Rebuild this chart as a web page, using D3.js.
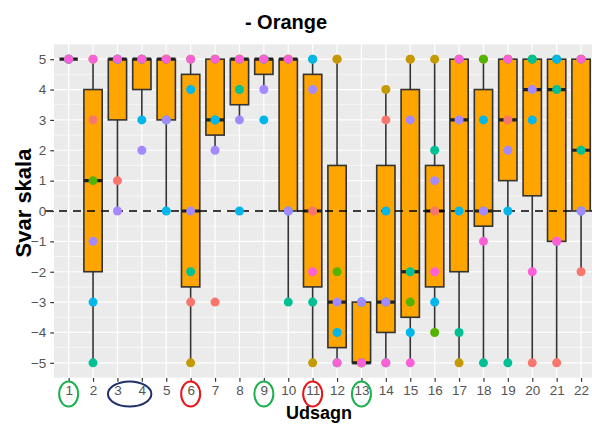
<!DOCTYPE html>
<html>
<head>
<meta charset="utf-8">
<script src="https://cdn.jsdelivr.net/npm/d3@7"></script>
<style>
  html, body { margin: 0; padding: 0; background: #fff; }
  svg { display: block; font-family: "Liberation Sans", Arial, sans-serif; }
</style>
</head>
<body>
<svg id="chart" width="592" height="424"></svg>
<script>
// Statements (x axis) and the answer scale (y axis)
const categories = ["1","2","3","4","5","6","7","8","9","10","11","12","13","14","15","16","17","18","19","20","21","22"];
const yTicks = [-5,-4,-3,-2,-1,0,1,2,3,4,5];

// Answers of each respondent, one value per statement
const resp1 = [5, 3, 1, 5, 5,-3,-3, 5, 5, 5, 0, 5,-5, 3, 5, 0, 5, 5, 3,-5,-5,-2];
const resp2 = [5, 5, 5, 5, 5,-5, 5, 5, 5, 5,-5, 5,-5, 4, 5, 5,-5, 0, 5, 5, 5, 5];
const resp3 = [5, 1, 5, 5, 5, 5, 5, 5, 5, 5, 5,-2,-5,-3,-3,-4, 5, 5, 5, 5, 5, 5];
const resp4 = [5,-5, 5, 5, 3,-2, 3, 4, 5,-3,-3,-5,-3,-5,-2, 2,-4,-5,-5, 5, 4, 2];
const resp5 = [5,-3, 5, 3, 0, 4, 3, 0, 3, 0, 5,-4,-3, 0,-4,-3, 0, 3, 0, 3, 5, 0];
const resp6 = [5,-1, 0, 2, 3, 0, 2, 3, 4, 0, 4,-3,-3,-3, 3, 1, 3, 0, 2, 4,-1, 0];
const resp7 = [5, 5, 5, 5, 5, 5, 5, 5, 5, 5,-2,-5,-5,-5,-5,-2, 5,-1, 5,-2,-1, 5];

const respondentNames = ["1","2","3","4","5","6","7"];
const respondentValues = [resp1, resp2, resp3, resp4, resp5, resp6, resp7];
const respondentColors = ["#F8766D","#C49A00","#53B400","#00C094","#00B6EB","#A58AFF","#FB61D7"];

// Ellipses marking selected statements under the axis
const markedGroups = [["1"],["3","4"],["6"],["9"],["11"],["13"]];
const markedColors = ["#1DB04F","#1F2F6B","#E8151B","#1DB04F","#E8151B","#1DB04F"];

const svg = d3.select("#chart");
const W = 592, H = 424;
const panel = { left: 54, right: 595.7, top: 44, bottom: 378 };

const x = d3.scalePoint().domain(categories).range([panel.left, panel.right]).padding(0.6);
const y = d3.scaleLinear().domain([-5.5, 5.5]).range([panel.bottom, panel.top]);
const step = x.step();
const boxW = step * 0.75;

svg.append("rect").attr("width", W).attr("height", H).attr("fill", "#fff");

const clip = svg.append("defs").append("clipPath").attr("id", "panelClip");
clip.append("rect").attr("x", panel.left).attr("y", panel.top)
  .attr("width", panel.right - panel.left).attr("height", panel.bottom - panel.top);

// Panel background and grid
svg.append("rect").attr("x", panel.left).attr("y", panel.top)
  .attr("width", panel.right - panel.left).attr("height", panel.bottom - panel.top)
  .attr("fill", "#EBEBEB");

const grid = svg.append("g").attr("clip-path", "url(#panelClip)");
const minorY = d3.range(-5.5, 5.6, 1);
grid.selectAll(".ymin").data(minorY).join("line")
  .attr("x1", panel.left).attr("x2", panel.right)
  .attr("y1", d => y(d)).attr("y2", d => y(d))
  .attr("stroke", "#fff").attr("stroke-width", 0.6);
grid.selectAll(".ymaj").data(yTicks).join("line")
  .attr("x1", panel.left).attr("x2", panel.right)
  .attr("y1", d => y(d)).attr("y2", d => y(d))
  .attr("stroke", "#fff").attr("stroke-width", 1.2);
grid.selectAll(".xmaj").data(categories).join("line")
  .attr("x1", d => x(d)).attr("x2", d => x(d))
  .attr("y1", panel.top).attr("y2", panel.bottom)
  .attr("stroke", "#fff").attr("stroke-width", 1.2);

// Box statistics per statement (R type-7 quantiles, 1.5 IQR whiskers)
const stats = categories.map((c, i) => {
  const vals = respondentValues.map(r => r[i]).sort(d3.ascending);
  const q1 = d3.quantile(vals, 0.25), med = d3.quantile(vals, 0.5), q3 = d3.quantile(vals, 0.75);
  const iqr = q3 - q1;
  const lo = d3.min(vals.filter(v => v >= q1 - 1.5 * iqr));
  const hi = d3.max(vals.filter(v => v <= q3 + 1.5 * iqr));
  return { c, q1, med, q3, lo, hi };
});

const boxes = svg.append("g").attr("clip-path", "url(#panelClip)");
const lineCol = "#333333";
boxes.selectAll(".whiskHi").data(stats).join("line")
  .attr("x1", d => x(d.c)).attr("x2", d => x(d.c))
  .attr("y1", d => y(d.q3)).attr("y2", d => y(d.hi))
  .attr("stroke", lineCol).attr("stroke-width", 1.6);
boxes.selectAll(".whiskLo").data(stats).join("line")
  .attr("x1", d => x(d.c)).attr("x2", d => x(d.c))
  .attr("y1", d => y(d.q1)).attr("y2", d => y(d.lo))
  .attr("stroke", lineCol).attr("stroke-width", 1.6);
boxes.selectAll(".box").data(stats).join("rect")
  .attr("x", d => x(d.c) - boxW / 2).attr("width", boxW)
  .attr("y", d => y(d.q3)).attr("height", d => y(d.q1) - y(d.q3))
  .attr("fill", "#FFA500").attr("stroke", lineCol).attr("stroke-width", 1.6);
boxes.selectAll(".median").data(stats).join("line")
  .attr("x1", d => x(d.c) - boxW / 2).attr("x2", d => x(d.c) + boxW / 2)
  .attr("y1", d => y(d.med)).attr("y2", d => y(d.med))
  .attr("stroke", "#222").attr("stroke-width", 3.2);

// Dashed reference line at zero
svg.append("line")
  .attr("x1", 45).attr("x2", panel.right)
  .attr("y1", y(0)).attr("y2", y(0))
  .attr("stroke", "#000").attr("stroke-width", 1.6)
  .attr("stroke-dasharray", "8,6");

// Respondent points
const pts = svg.append("g").attr("clip-path", "url(#panelClip)");
respondentValues.forEach((vals, r) => {
  pts.selectAll(".p" + r).data(vals).join("circle")
    .attr("cx", (v, i) => x(categories[i]))
    .attr("cy", v => y(v))
    .attr("r", 4.5)
    .attr("fill", respondentColors[r]);
});

// Axes
const yAxis = svg.append("g").attr("transform", `translate(${panel.left},0)`)
  .call(d3.axisLeft(y).tickValues(yTicks).tickSize(3.7).tickPadding(4));
const xAxis = svg.append("g").attr("transform", `translate(0,${panel.bottom})`)
  .call(d3.axisBottom(x).tickSize(3.7).tickPadding(4));
[yAxis, xAxis].forEach(a => {
  a.select(".domain").remove();
  a.selectAll(".tick line").attr("stroke", "#333").attr("stroke-width", 1.2);
  a.selectAll(".tick text").attr("fill", "#555").style("font-size", "13.5px")
    .style("font-family", "'Liberation Sans', Arial, sans-serif");
});

// Markers around selected statement labels
markedGroups.forEach((g, i) => {
  const xs = g.map(c => x(c));
  const cx = (d3.min(xs) + d3.max(xs)) / 2;
  const rx = (d3.max(xs) - d3.min(xs)) / 2 + 9.5;
  svg.append("ellipse")
    .attr("cx", cx).attr("cy", 394).attr("rx", rx).attr("ry", 12.5)
    .attr("fill", "none").attr("stroke", markedColors[i]).attr("stroke-width", 2);
});

// Titles
svg.append("text").attr("x", 286).attr("y", 29).attr("text-anchor", "middle")
  .style("font-size", "20px").style("font-weight", "bold").attr("fill", "#000")
  .text("- Orange");
svg.append("text").attr("x", 319).attr("y", 419).attr("text-anchor", "middle")
  .style("font-size", "18px").style("font-weight", "bold").attr("fill", "#000")
  .text("Udsagn");
svg.append("text").attr("transform", `translate(31,203) rotate(-90)`)
  .attr("text-anchor", "middle")
  .style("font-size", "22px").style("font-weight", "bold").attr("fill", "#000")
  .text("Svar skala");
</script>
</body>
</html>
